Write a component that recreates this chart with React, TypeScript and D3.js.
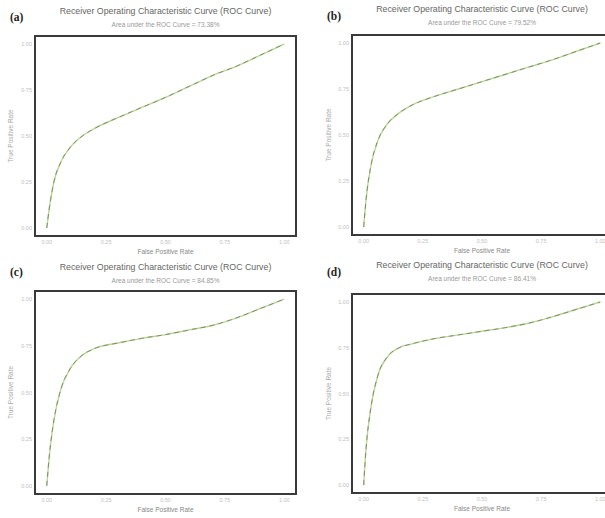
import React from "react";
import * as d3 from "d3";

const panelLabels = ["(a)", "(b)", "(c)", "(d)"];
const aucValues = ["73.38%", "79.52%", "84.85%", "86.41%"];
const fpr = [0, 0.01, 0.03, 0.06, 0.1, 0.15, 0.2, 0.3, 0.4, 0.5, 0.6, 0.7, 0.8, 0.9, 1];
const tprA = [0, 0.1, 0.25, 0.36, 0.44, 0.5, 0.54, 0.6, 0.655, 0.71, 0.77, 0.83, 0.88, 0.94, 1];
const tprB = [0, 0.15, 0.33, 0.47, 0.56, 0.62, 0.66, 0.71, 0.75, 0.79, 0.83, 0.87, 0.91, 0.955, 1];
const tprC = [0, 0.15, 0.35, 0.52, 0.63, 0.7, 0.735, 0.765, 0.79, 0.81, 0.835, 0.86, 0.9, 0.95, 1];
const tprD = [0, 0.2, 0.42, 0.6, 0.7, 0.75, 0.77, 0.8, 0.82, 0.84, 0.86, 0.885, 0.92, 0.96, 1];
const tprSeries = [tprA, tprB, tprC, tprD];
const tickValues = [0, 0.25, 0.5, 0.75, 1];
const tickLabels = ["0.00", "0.25", "0.50", "0.75", "1.00"];

const TITLE = "Receiver Operating Characteristic Curve (ROC Curve)";
const SUB = "Area under the ROC Curve = ";

// layout of each panel: box and inner plotting ranges
const layouts = [
  { bx0: 35, by0: 36, bx1: 296, by1: 236, titleY: 14, labelX: 10, labelY: 21, ytitleX: 13 },
  { bx0: 352, by0: 35, bx1: 612, by1: 235, titleY: 12, labelX: 327, labelY: 20, ytitleX: 331 },
  { bx0: 35, by0: 291, bx1: 296, by1: 494, titleY: 270, labelX: 10, labelY: 276, ytitleX: 13 },
  { bx0: 352, by0: 294, bx1: 612, by1: 493, titleY: 268, labelX: 327, labelY: 276, ytitleX: 331 },
];

const font = "'Liberation Sans', Arial, sans-serif";

function Panel({ i }: { i: number }) {
  const L = layouts[i];
  const w = L.bx1 - L.bx0;
  const h = L.by1 - L.by0;
  const padX = w * 0.045;
  const padY = h * 0.04;
  const x = d3.scaleLinear().domain([0, 1]).range([L.bx0 + padX, L.bx1 - padX]);
  const y = d3.scaleLinear().domain([0, 1]).range([L.by1 - padY, L.by0 + padY]);
  const data = fpr.map((f, k) => [f, tprSeries[i][k]] as [number, number]);
  const line = d3
    .line<[number, number]>()
    .x((d) => x(d[0]))
    .y((d) => y(d[1]))
    .curve(d3.curveMonotoneX);
  const path = line(data) || "";
  const cx = (L.bx0 + L.bx1) / 2;
  return (
    <g>
      <text x={L.labelX} y={L.labelY} fontFamily="'Liberation Serif', serif" fontWeight="bold" fontSize={11.5} fill="#222">
        {panelLabels[i]}
      </text>
      <text x={cx} y={L.titleY} textAnchor="middle" fontFamily={font} fontSize={8.8} fill="#666">
        {TITLE}
      </text>
      <text x={cx} y={L.titleY + 13} textAnchor="middle" fontFamily={font} fontSize={6.5} fill="#999">
        {SUB + aucValues[i]}
      </text>
      <rect x={L.bx0} y={L.by0} width={w} height={h} fill="#fff" stroke="#3a3a3a" strokeWidth={2} />
      {tickValues.map((t, k) => (
        <text key={"x" + k} x={x(t)} y={L.by1 + 8} textAnchor="middle" fontFamily={font} fontSize={5.5} fill="#c0c0c0">
          {tickLabels[k]}
        </text>
      ))}
      {tickValues.map((t, k) => (
        <text key={"y" + k} x={L.bx0 - 3} y={y(t) + 2} textAnchor="end" fontFamily={font} fontSize={5.5} fill="#c0c0c0">
          {tickLabels[k]}
        </text>
      ))}
      <text x={cx} y={L.by1 + 18} textAnchor="middle" fontFamily={font} fontSize={6.5} fill="#888">
        False Positive Rate
      </text>
      <text
        transform={`translate(${L.ytitleX},${(L.by0 + L.by1) / 2}) rotate(-90)`}
        textAnchor="middle"
        fontFamily={font}
        fontSize={6.5}
        fill="#aaa"
      >
        True Positive Rate
      </text>
      <path d={path} fill="none" stroke="#b8d890" strokeWidth={1.4} />
      <path d={path} fill="none" stroke="#666" strokeWidth={0.9} strokeDasharray="5,4" opacity={0.75} />
    </g>
  );
}

export default function App() {
  return (
    <svg
      width={605}
      height={518}
      style={{ position: "absolute", left: 0, top: 0, background: "#fff" }}
    >
      {[0, 1, 2, 3].map((i) => (
        <Panel key={i} i={i} />
      ))}
    </svg>
  );
}
